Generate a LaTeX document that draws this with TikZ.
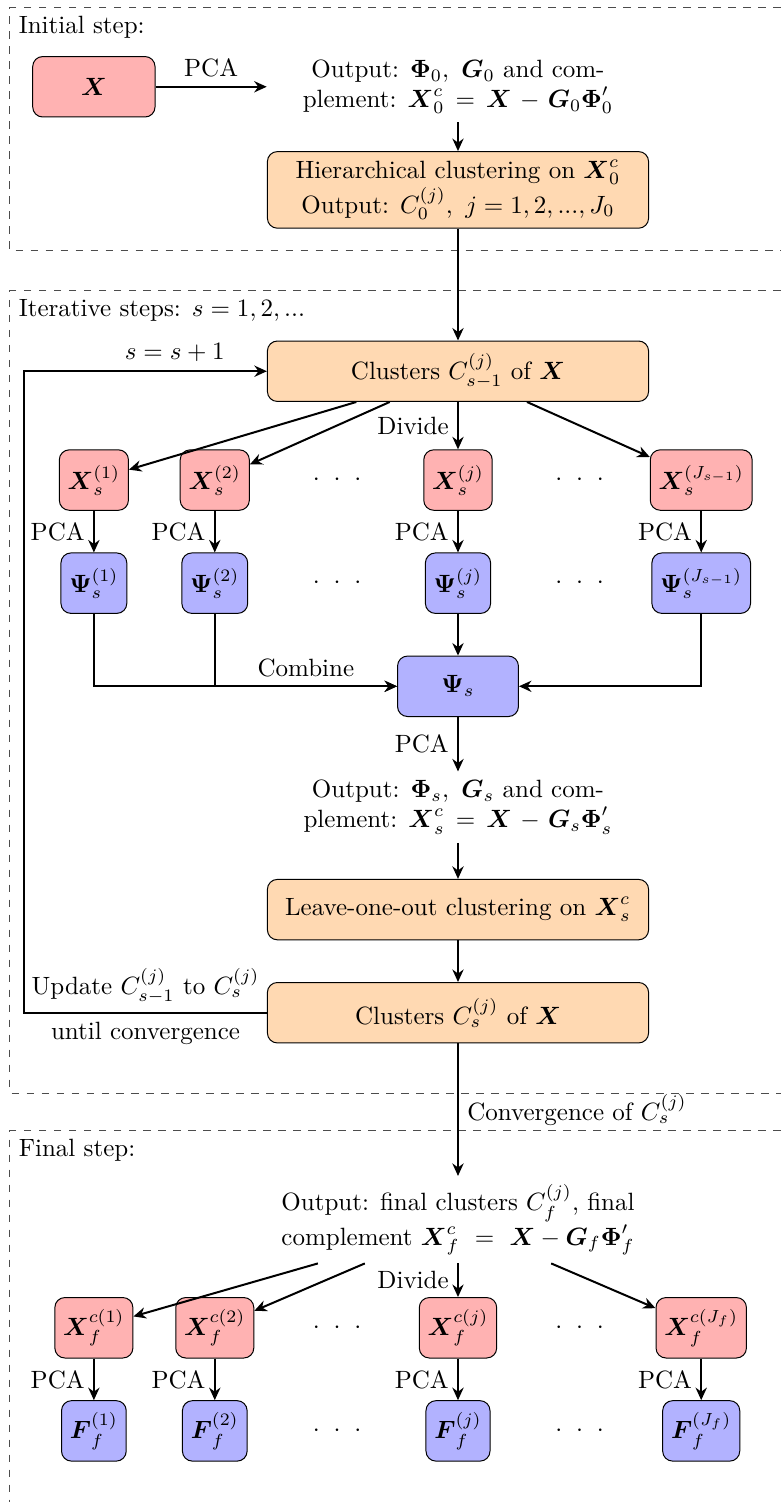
\documentclass[tikz,border=0pt]{standalone}
\usepackage{amsmath}
\usetikzlibrary{arrows.meta,calc}

\begin{document}
\begin{tikzpicture}[
    >={Stealth[length=5pt,width=4.5pt]},
    red_box/.style={draw, rounded corners=4pt, fill=red!30, minimum height=0.85cm},
    blue_box/.style={draw, rounded corners=4pt, fill=blue!30, minimum height=0.85cm},
    orange_box/.style={draw, rounded corners=4pt, fill=orange!30, minimum width=5.36cm, minimum height=0.85cm, align=center},
    out_text/.style={align=center},
    frame_line/.style={dashed, black!70},
    flow/.style={->, thick}
]
    \def\colOne{1.32}
    \def\colTwo{3.02}
    \def\colMid{6.44}
    \def\colLast{9.86}
    \def\dotsA{4.74}
    \def\dotsB{8.15}
    \def\loopX{0.34}

    \useasboundingbox (0,0) rectangle (10.98,-21.12);

    % dashed frames of the three steps
    \draw[frame_line] (10.98,-0.10) -- (0.14,-0.10) -- (0.14,-3.52) -- (10.98,-3.52);
    \draw[frame_line] (10.98,-4.09) -- (0.14,-4.09) -- (0.14,-15.37) -- (10.98,-15.37);
    \draw[frame_line] (10.98,-15.90) -- (0.14,-15.90) -- (0.14,-21.2);
    \node[anchor=north west] (lab_init) at (0.14,-0.10) {Initial step:};
    \node[anchor=north west] (lab_iter) at (0.14,-4.09) {Iterative steps: $s=1,2,...$};
    \node[anchor=north west] (lab_final) at (0.14,-15.90) {Final step:};

    % initial step
    \node[red_box, minimum width=1.72cm] (X0) at (\colOne,-1.22) {$\boldsymbol{X}$};
    \coordinate (pca0) at (3.75,-1.22);
    \node[out_text] (out0) at (\colMid,-1.22) {Output: $\boldsymbol{\Phi}_0,~\boldsymbol{G}_0$ and com-\\plement: $\boldsymbol{X}_0^c \,=\, \boldsymbol{X} \mskip2mu-\mskip2mu \boldsymbol{G}_0\boldsymbol{\Phi}_0'$};
    \node[orange_box] (hier) at (\colMid,-2.67) {Hierarchical clustering on $\boldsymbol{X}_0^c$\\Output: $C_0^{(j)},~j=1,2,...,J_0$};

    \draw[flow] (X0) -- (pca0) node[midway, above] {PCA};
    \draw[flow] (out0) -- (hier);

    % iterative steps
    \node[orange_box] (clus0) at (\colMid,-5.22) {Clusters $C_{s-1}^{(j)}$ of $\boldsymbol{X}$};
    \draw[flow] (hier) -- (clus0);

    \node[red_box] (xs1) at (\colOne,-6.75) {$\boldsymbol{X}_s^{(1)}$};
    \node[red_box] (xs2) at (\colTwo,-6.75) {$\boldsymbol{X}_s^{(2)}$};
    \node[red_box] (xsj) at (\colMid,-6.75) {$\boldsymbol{X}_s^{(j)}$};
    \node[red_box] (xslast) at (\colLast,-6.75) {$\boldsymbol{X}_s^{(J_{s-1})}$};
    \node (dots_xa) at (\dotsA,-6.75) {$\cdot\ \cdot\ \cdot$};
    \node (dots_xb) at (\dotsB,-6.75) {$\cdot\ \cdot\ \cdot$};

    \node[blue_box] (ps1) at (\colOne,-8.20) {$\boldsymbol{\Psi}_s^{(1)}$};
    \node[blue_box] (ps2) at (\colTwo,-8.20) {$\boldsymbol{\Psi}_s^{(2)}$};
    \node[blue_box] (psj) at (\colMid,-8.20) {$\boldsymbol{\Psi}_s^{(j)}$};
    \node[blue_box] (pslast) at (\colLast,-8.20) {$\boldsymbol{\Psi}_s^{(J_{s-1})}$};
    \node (dots_pa) at (\dotsA,-8.20) {$\cdot\ \cdot\ \cdot$};
    \node (dots_pb) at (\dotsB,-8.20) {$\cdot\ \cdot\ \cdot$};

    \node[blue_box, minimum width=1.7cm] (psis) at (\colMid,-9.65) {$\boldsymbol{\Psi}_s$};
    \node[out_text] (outs) at (\colMid,-11.35) {Output: $\boldsymbol{\Phi}_s,~\boldsymbol{G}_s$ and com-\\plement: $\boldsymbol{X}_s^c \,=\, \boldsymbol{X} \mskip2mu-\mskip2mu \boldsymbol{G}_s\boldsymbol{\Phi}_s'$};
    \node[orange_box] (leave) at (\colMid,-12.79) {Leave-one-out clustering on $\boldsymbol{X}_s^c$};
    \node[orange_box] (cluss) at (\colMid,-14.24) {Clusters $C_s^{(j)}$ of $\boldsymbol{X}$};
    \coordinate (loopx) at (\loopX,0);

    \draw[flow] ($(clus0.south)+(-1.43,0)$) -- (xs1);
    \draw[flow] ($(clus0.south)+(-0.96,0)$) -- (xs2);
    \draw[flow] (clus0) -- (xsj) node[midway, left] {Divide};
    \draw[flow] ($(clus0.south)+(0.97,0)$) -- (xslast);
    \foreach \n in {1,2,j,last}
        \draw[flow] (xs\n) -- (ps\n) node[midway, left] {PCA};

    \draw[flow] (ps1) |- (psis);
    \draw[flow] (ps2) |- (psis) node[pos=0.75, above] {Combine};
    \draw[flow] (psj) -- (psis);
    \draw[flow] (pslast) |- (psis);
    \draw[flow] (psis) -- (outs) node[midway, left] {PCA};
    \draw[flow] (outs) -- (leave);
    \draw[flow] (leave) -- (cluss);
    \draw[flow] (cluss.west) -- (cluss.west -| loopx)
        node[midway, above] {Update $C_{s-1}^{(j)}$ to $C_s^{(j)}$}
        node[midway, below] {until convergence}
        |- (clus0.west) node[pos=0.81, above] {$s=s+1$};

    % final step
    \node[out_text] (outf) at (\colMid,-17.15) {Output: final clusters $C_f^{(j)}$, final\\complement $\boldsymbol{X}_f^c\ =\ \boldsymbol{X} - \boldsymbol{G}_f\boldsymbol{\Phi}_f'$};

    \node[red_box] (xf1) at (\colOne,-18.67) {$\boldsymbol{X}_f^{c(1)}$};
    \node[red_box] (xf2) at (\colTwo,-18.67) {$\boldsymbol{X}_f^{c(2)}$};
    \node[red_box] (xfj) at (\colMid,-18.67) {$\boldsymbol{X}_f^{c(j)}$};
    \node[red_box] (xflast) at (\colLast,-18.67) {$\boldsymbol{X}_f^{c(J_f)}$};
    \node (dots_fa) at (\dotsA,-18.67) {$\cdot\ \cdot\ \cdot$};
    \node (dots_fb) at (\dotsB,-18.67) {$\cdot\ \cdot\ \cdot$};

    \node[blue_box] (ff1) at (\colOne,-20.12) {$\boldsymbol{F}_f^{(1)}$};
    \node[blue_box] (ff2) at (\colTwo,-20.12) {$\boldsymbol{F}_f^{(2)}$};
    \node[blue_box] (ffj) at (\colMid,-20.12) {$\boldsymbol{F}_f^{(j)}$};
    \node[blue_box] (fflast) at (\colLast,-20.12) {$\boldsymbol{F}_f^{(J_f)}$};
    \node (dots_ga) at (\dotsA,-20.12) {$\cdot\ \cdot\ \cdot$};
    \node (dots_gb) at (\dotsB,-20.12) {$\cdot\ \cdot\ \cdot$};

    \draw[flow] (cluss) -- (outf) node[midway, right] {Convergence of $C_s^{(j)}$};
    \draw[flow] ($(outf.south)+(-1.97,0)$) -- (xf1);
    \draw[flow] ($(outf.south)+(-1.31,0)$) -- (xf2);
    \draw[flow] (outf) -- (xfj) node[midway, left] {Divide};
    \draw[flow] ($(outf.south)+(1.31,0)$) -- (xflast);
    \foreach \n in {1,2,j,last}
        \draw[flow] (xf\n) -- (ff\n) node[midway, left] {PCA};

\end{tikzpicture}
\end{document}
